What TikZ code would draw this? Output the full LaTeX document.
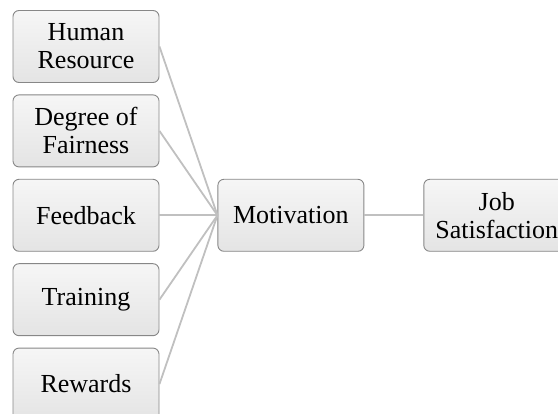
\documentclass[tikz,border=0pt]{standalone}
\usepackage{fontspec}
\setmainfont{Liberation Serif}
\usepackage{tikz}
\usetikzlibrary{positioning,shadings}
\definecolor{boxline}{RGB}{135,135,135}
\definecolor{boxtop}{RGB}{246,246,246}
\definecolor{boxbottom}{RGB}{228,228,228}
\definecolor{linkgray}{RGB}{192,192,192}
\tikzset{
  factor/.style={draw=boxline,line width=0.9pt,rounded corners=6pt,
    top color=boxtop,bottom color=boxbottom,
    minimum width=146pt,minimum height=72pt,inner sep=0pt,align=center,
    font=\fontsize{26}{28}\selectfont},
  link/.style={draw=linkgray,line width=1.8pt}
}
\begin{document}
\begin{tikzpicture}[x=1pt,y=1pt,node distance=11.5pt]
\useasboundingbox (0,0) rectangle (558,-414);
\clip (0,0) rectangle (558,-414);
\node[factor] (hr) at (86,-46.5) {Human\\Resource};
\node[factor,below=of hr] (fair) {Degree of\\Fairness};
\node[factor,below=of fair] (feed) {Feedback};
\node[factor,below=of feed] (train) {Training};
\node[factor,below=of train] (rew) {Rewards};
\node[factor,right=58pt of feed] (mot) {Motivation};
\node[factor,right=59pt of mot] (job) {Job\\Satisfaction};
\foreach \f in {hr,fair,feed,train,rew}
  \draw[link] (\f.east) -- (mot.west);
\draw[link] (mot) -- (job);
\end{tikzpicture}
\end{document}
